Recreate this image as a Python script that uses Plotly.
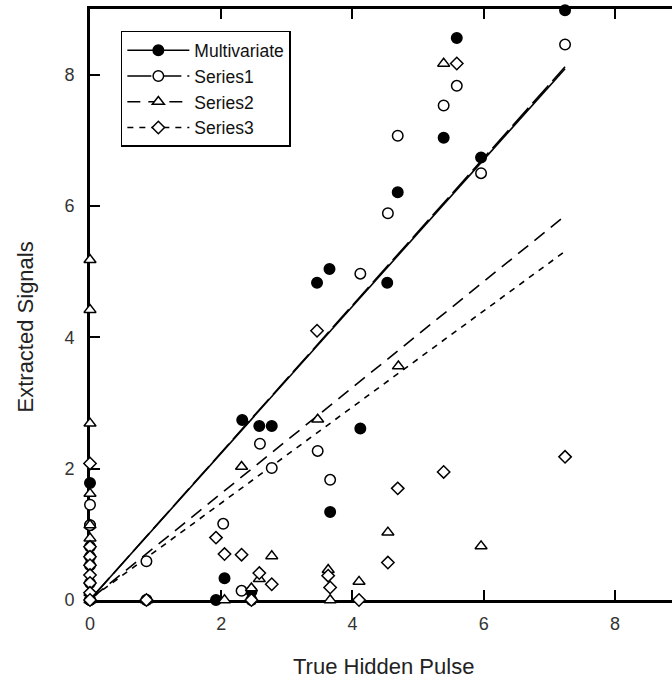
import plotly.graph_objects as go

# ---- data ----
multi_x = [0, 0, 0, 0, 0, 0.86, 1.92, 2.05, 2.32, 2.46, 2.58, 2.77, 3.46, 3.65, 3.66, 4.12, 4.53, 4.69, 5.39, 5.59, 5.96, 7.24]
multi_y = [1.78, 1.14, 0.81, 0.66, 0.0, 0.0, 0.0, 0.33, 2.74, 0.13, 2.65, 2.65, 4.83, 5.04, 1.34, 2.61, 4.83, 6.21, 7.04, 8.56, 6.74, 8.98]

s1_x = [0, 0, 0, 0, 0, 0.86, 0.86, 2.03, 2.31, 2.46, 2.59, 2.77, 3.47, 3.66, 4.12, 4.54, 4.69, 5.39, 5.59, 5.96, 7.24]
s1_y = [1.45, 1.14, 0.53, 0.26, 0.0, 0.59, 0.0, 1.16, 0.14, 0.0, 2.38, 2.01, 2.27, 1.83, 4.97, 5.89, 7.07, 7.53, 7.83, 6.50, 8.46]

s2_x = [0, 0, 0, 0, 0, 0, 0, 0, 0.86, 2.05, 2.31, 2.46, 2.58, 2.77, 3.47, 3.63, 3.66, 4.10, 4.54, 4.70, 5.39, 5.96]
s2_y = [5.18, 4.42, 2.69, 1.62, 1.14, 0.94, 0.11, 0.0, 0.0, 0.0, 2.03, 0.18, 0.32, 0.67, 2.75, 0.46, 0.0, 0.28, 1.03, 3.56, 8.17, 0.82]

s3_x = [0, 0, 0, 0, 0, 0, 0, 0, 0.86, 1.92, 2.05, 2.31, 2.46, 2.58, 2.77, 3.46, 3.63, 3.66, 4.10, 4.54, 4.69, 5.39, 5.59, 7.24]
s3_y = [2.08, 0.81, 0.66, 0.53, 0.38, 0.26, 0.11, 0.0, 0.0, 0.95, 0.70, 0.69, 0.0, 0.41, 0.24, 4.10, 0.37, 0.19, 0.0, 0.57, 1.70, 1.95, 8.17, 2.18]

fit_x = [0.05, 7.24]
fit_multi = [0.06, 8.09]
fit_s1 = [0.06, 8.12]
fit_s2 = [0.05, 5.85]
fit_s3 = [0.05, 5.31]

names = ["Multivariate", "Series1", "Series2", "Series3"]
x_ticks = [0, 2, 4, 6, 8]
y_ticks = [0, 2, 4, 6, 8]

FONT = "Liberation Sans, Arial, sans-serif"
fig = go.Figure()

series = [
    (names[0], multi_x, multi_y, fit_multi, "circle", "black", 10.5, "solid"),
    (names[1], s1_x, s1_y, fit_s1, "circle", "white", 10.5, "24px,6px"),
    (names[2], s2_x, s2_y, fit_s2, "triangle-up", "white", 10.5, "13px,8px"),
    (names[3], s3_x, s3_y, fit_s3, "diamond", "white", 9.5, "6px,6px"),
]

# fit lines
for name, xs, ys, fy, sym, col, sz, dash in series:
    fig.add_trace(go.Scatter(x=fit_x, y=fy, mode="lines", showlegend=False,
                             line=dict(color="black", width=1.6, dash=dash),
                             hoverinfo="skip"))
# points
for name, xs, ys, fy, sym, col, sz, dash in series:
    fig.add_trace(go.Scatter(x=xs, y=ys, mode="markers", showlegend=False,
                             cliponaxis=False,
                             marker=dict(symbol=sym, size=sz, color=col,
                                         line=dict(color="black", width=1.5))))
# legend entries
for name, xs, ys, fy, sym, col, sz, dash in series:
    fig.add_trace(go.Scatter(x=[None], y=[None], mode="lines+markers", name=name,
                             line=dict(color="black", width=1.6, dash=dash),
                             marker=dict(symbol=sym, size=sz, color=col,
                                         line=dict(color="black", width=1.5))))

fig.update_layout(
    width=672, height=681,
    margin=dict(l=90, r=0, t=9, b=81),
    paper_bgcolor="white", plot_bgcolor="white",
    font=dict(family=FONT, color="#333", size=18),
    showlegend=True,
    legend=dict(x=0.053, y=0.963, xanchor="left", yanchor="top",
                bgcolor="white", bordercolor="black", borderwidth=1.5,
                font=dict(size=17.5, color="#111"), itemwidth=62,
                tracegroupgap=0),
    xaxis=dict(range=[0, 8.87], tickvals=x_ticks, ticktext=[str(v) for v in x_ticks],
               ticks="inside", ticklen=10, tickwidth=2, tickcolor="black",
               showline=True, linewidth=3, linecolor="black", mirror="ticks",
               showgrid=False, zeroline=False, layer="below traces",
               ticklabelstandoff=5, tickfont=dict(size=18, color="#333")),
    yaxis=dict(range=[0, 9], tickvals=y_ticks, ticktext=[str(v) for v in y_ticks],
               ticks="inside", ticklen=10, tickwidth=2, tickcolor="black",
               showline=True, linewidth=3, linecolor="black", mirror=False,
               showgrid=False, zeroline=False, layer="below traces",
               ticklabelstandoff=9, tickfont=dict(size=18, color="#333")),
    yaxis2=dict(range=[0, 9], overlaying="y", side="right", tickvals=y_ticks,
                ticks="inside", ticklen=3, tickwidth=2, tickcolor="black",
                showline=False, showgrid=False, zeroline=False, showticklabels=False),
    annotations=[
        dict(text="Extracted Signals", xref="paper", yref="paper",
             x=-0.1117, y=0.4628, xanchor="center", yanchor="middle",
             textangle=-90, showarrow=False, font=dict(size=22, color="#222")),
        dict(text="True Hidden Pulse", xref="paper", yref="paper",
             x=0.504, y=-0.1117, xanchor="center", yanchor="middle",
             showarrow=False, font=dict(size=22, color="#222")),
    ],
)

fig.write_html("out.html")
